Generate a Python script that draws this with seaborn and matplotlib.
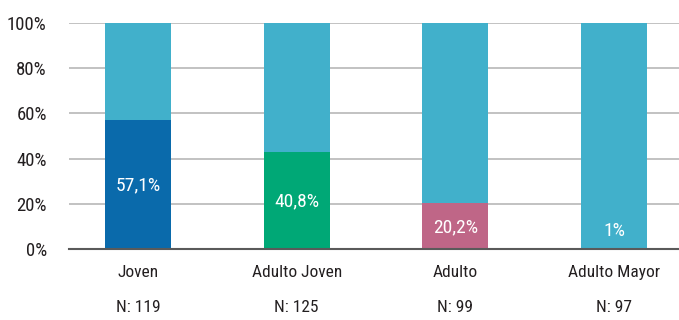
import matplotlib
matplotlib.use("Agg")
import matplotlib.pyplot as plt
import matplotlib.transforms as mtransforms
import seaborn as sns
import pandas as pd

categories = ["Joven", "Adulto Joven", "Adulto", "Adulto Mayor"]
n_labels = ["N: 119", "N: 125", "N: 99", "N: 97"]
bottom_values = [57.1, 43.0, 20.2, 1.0]
value_labels = ["57,1%", "40,8%", "20,2%", "1%"]
total_values = [100, 100, 100, 100]
yticks = [0, 20, 40, 60, 80, 100]
ytick_labels = ["0%", "20%", "40%", "60%", "80%", "100%"]

top_color = "#41b0cb"
bottom_colors = ["#0a6aab", "#00a876", "#bf6687", "#41b0cb"]

sns.set_theme(style="white")
plt.rcParams["font.family"] = ["Liberation Sans Narrow", "DejaVu Sans Condensed",
                               "Roboto Condensed", "DejaVu Sans"]

df = pd.DataFrame({"cat": categories, "bottom": bottom_values, "total": total_values})

fig = plt.figure(figsize=(6.79, 3.20), dpi=100)
ax = fig.add_axes([69 / 679, 71 / 320, 1 - 69 / 679, 226 / 320])

sns.barplot(data=df, x="cat", y="total", color=top_color, saturation=1,
            width=0.416, ax=ax, zorder=3, linewidth=0)
sns.barplot(data=df, x="cat", y="bottom", hue="cat", palette=bottom_colors,
            saturation=1, width=0.416, ax=ax, legend=False, zorder=4, linewidth=0)

for i, (v, lab) in enumerate(zip(bottom_values, value_labels)):
    ax.text(i, max(v / 2, 8.5) - 0.5, lab, ha="center", va="center",
            color="white", fontsize=14, zorder=5)

ax.set_xlim(-0.435, 3.41)
ax.set_ylim(0, 100)
ax.set_yticks(yticks)
ax.set_yticklabels(ytick_labels, fontsize=13.5, color="#231f20")
ax.tick_params(axis="y", length=0, pad=16)
ax.set_xticks(range(len(categories)))
ax.set_xticklabels([])
ax.tick_params(axis="x", length=0)
ax.set_xlabel("")
ax.set_ylabel("")

ax.yaxis.grid(True, color="#b8b8b8", linewidth=1.2, zorder=0)
ax.set_axisbelow(True)
for s in ["top", "right", "left"]:
    ax.spines[s].set_visible(False)
ax.spines["bottom"].set_color("#5a5a5a")
ax.spines["bottom"].set_linewidth(1.5)
ax.spines["bottom"].set_zorder(6)

trans = mtransforms.blended_transform_factory(ax.transData, ax.transAxes)
for i, (c, n) in enumerate(zip(categories, n_labels)):
    ax.text(i, -0.102, c, transform=trans, ha="center", va="center",
            fontsize=12.5, color="#231f20")
    ax.text(i, -0.257, n, transform=trans, ha="center", va="center",
            fontsize=12.5, color="#231f20")

fig.savefig("out.png", dpi=100)
